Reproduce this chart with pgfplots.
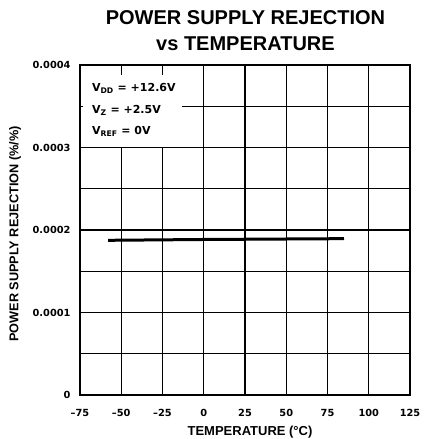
\documentclass[border=0pt]{standalone}
\usepackage{pgfplots}
\pgfplotsset{compat=1.18}
\usepackage{fontspec}
\setmainfont{Liberation Sans}
\newfontfamily\dv{DejaVu Sans}
\begin{document}
\begin{tikzpicture}
\path[use as bounding box] (-80pt,-44pt) rectangle (347pt,395pt);
\begin{axis}[
  at={(0pt,0pt)}, anchor=south west,
  scale only axis, width=330pt, height=330pt,
  xmin=-75, xmax=125, ymin=0, ymax=0.0004,
  xtick={-75,-50,-25,0,25,50,75,100,125},
  xticklabels={–75,–50,–25,0,25,50,75,100,125},
  ytick={0,0.0001,0.0002,0.0003,0.0004},
  yticklabels={0,0.0001,0.0002,0.0003,0.0004},
  minor ytick={0.00005,0.00015,0.00025,0.00035},
  scaled y ticks=false,
  grid=both,
  major grid style={black, line width=1.1pt},
  minor grid style={black, line width=1.1pt},
  major tick length=0pt, minor tick length=0pt,
  axis line style={black, line width=2pt},
  tick label style={font=\dv\bfseries\fontsize{9.8}{11}\selectfont},
  xticklabel style={yshift=-10.5pt},
  yticklabel style={xshift=-6pt},
  clip=false,
]
\addplot[black, line width=3pt] coordinates {(-58,0.0001875) (0,0.0001885) (85,0.0001895)};
\fill[white] (rel axis cs:0.009,0.97) rectangle (rel axis cs:0.309,0.752);
\node[anchor=west, inner sep=0pt, font=\dv\bfseries\fontsize{11}{13}\selectfont] at (rel axis cs:0.036,0.93) {V\textsubscript{DD} = +12.6V};
\node[anchor=west, inner sep=0pt, font=\dv\bfseries\fontsize{11}{13}\selectfont] at (rel axis cs:0.036,0.863) {V\textsubscript{Z} = +2.5V};
\node[anchor=west, inner sep=0pt, font=\dv\bfseries\fontsize{11}{13}\selectfont] at (rel axis cs:0.036,0.80) {V\textsubscript{REF} = 0V};
\end{axis}
\node[font=\fontsize{20}{26}\selectfont\bfseries, align=center] at (165.5pt,364pt) {POWER SUPPLY REJECTION\\vs TEMPERATURE};
\node[font=\fontsize{13}{15}\selectfont\bfseries] at (170pt,-37pt) {TEMPERATURE (\textdegree C)};
\node[font=\fontsize{12.7}{14}\selectfont\bfseries, rotate=90] at (-65pt,161pt) {POWER SUPPLY REJECTION (\%/\%)};
\end{tikzpicture}
\end{document}
